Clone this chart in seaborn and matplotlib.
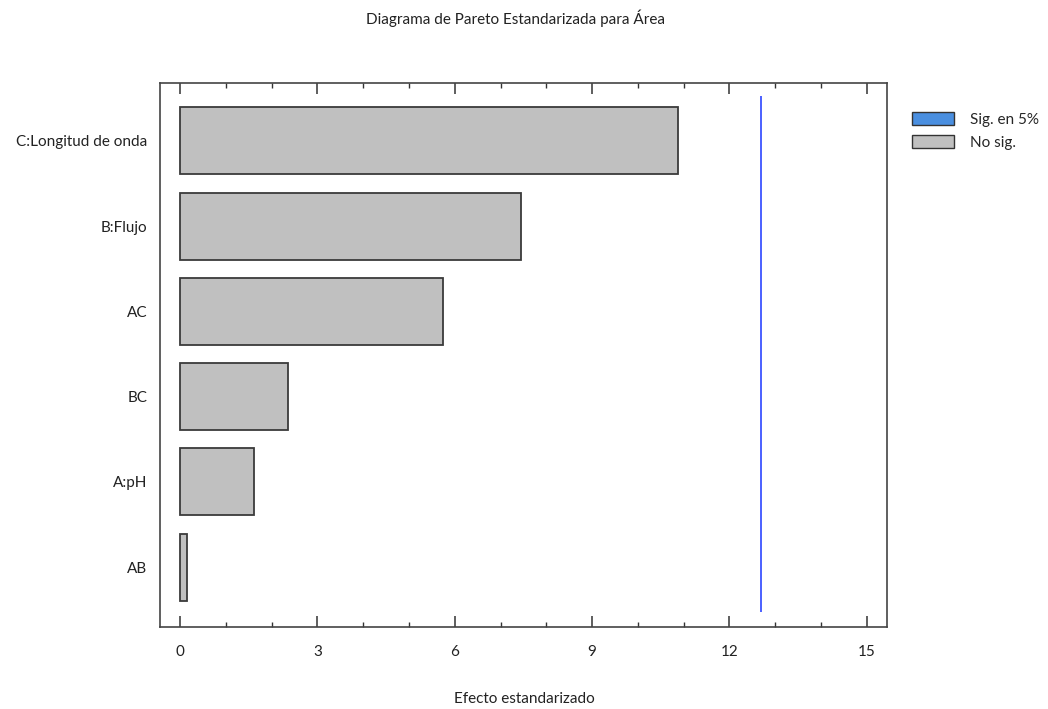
import matplotlib
matplotlib.use("Agg")
import matplotlib.pyplot as plt
from matplotlib.patches import Patch
from matplotlib.ticker import MultipleLocator
import seaborn as sns
import pandas as pd

# Data
factors = ["C:Longitud de onda", "B:Flujo", "AC", "BC", "A:pH", "AB"]
effects = [10.87, 7.44, 5.75, 2.35, 1.61, 0.16]
sig_limit = 12.68
legend_labels = ["Sig. en 5%", "No sig."]
title = "Diagrama de Pareto Estandarizada para Área"
xlabel = "Efecto estandarizado"

sns.set_theme(style="white")
plt.rcParams["font.family"] = ["Lato", "DejaVu Sans"]

FS = 11
df = pd.DataFrame({"factor": factors, "effect": effects})

fig = plt.figure(figsize=(10.48, 7.09), dpi=100)
ax = fig.add_axes([160/1048, 1-627/709, (887-160)/1048, (627-82.7)/709])

bar_color = "#c0c0c0"
edge_color = "#3a3a3a"
sns.barplot(data=df, x="effect", y="factor", orient="h", color=bar_color,
            edgecolor=edge_color, linewidth=1.3, width=0.785, ax=ax,
            saturation=1)

ax.vlines(sig_limit, -0.52, 5.52, color="#1a36ff", linewidth=1.1)

ax.set_xlim(-0.437, 15.44)
ax.set_ylim(5.70, -0.68)
ax.xaxis.set_major_locator(MultipleLocator(3))
ax.xaxis.set_minor_locator(MultipleLocator(1))
ax.tick_params(axis="x", which="major", direction="in", length=7.7, width=1.1,
               color="#333333", top=True, bottom=True, labelsize=FS,
               labelcolor="#222222", pad=13)
ax.tick_params(axis="x", which="minor", direction="in", length=3.6, width=1.0,
               color="#333333", top=True, bottom=True)
ax.tick_params(axis="y", left=False, length=0, labelsize=FS, labelcolor="#222222", pad=9)
ax.set_ylabel("")
ax.set_xlabel("")
for s in ax.spines.values():
    s.set_color("#444444")
    s.set_linewidth(1.2)

fig.text(515/1048, 1-18/709, title, ha="center", va="center", fontsize=FS, color="#222222")
fig.text(524/1048, 1-699/709, xlabel, ha="center", va="center", fontsize=FS, color="#222222")

handles = [Patch(facecolor="#4a8fe0", edgecolor="#333333", linewidth=1.0),
           Patch(facecolor=bar_color, edgecolor="#333333", linewidth=1.0)]
fig.legend(handles, legend_labels, loc="upper left",
           bbox_to_anchor=(912/1048, 1-112/709), frameon=False,
           fontsize=FS, handlelength=2.75, handleheight=0.92,
           labelspacing=0.55, handletextpad=1.05, borderaxespad=0, borderpad=0)

fig.savefig("out.png", dpi=100)
